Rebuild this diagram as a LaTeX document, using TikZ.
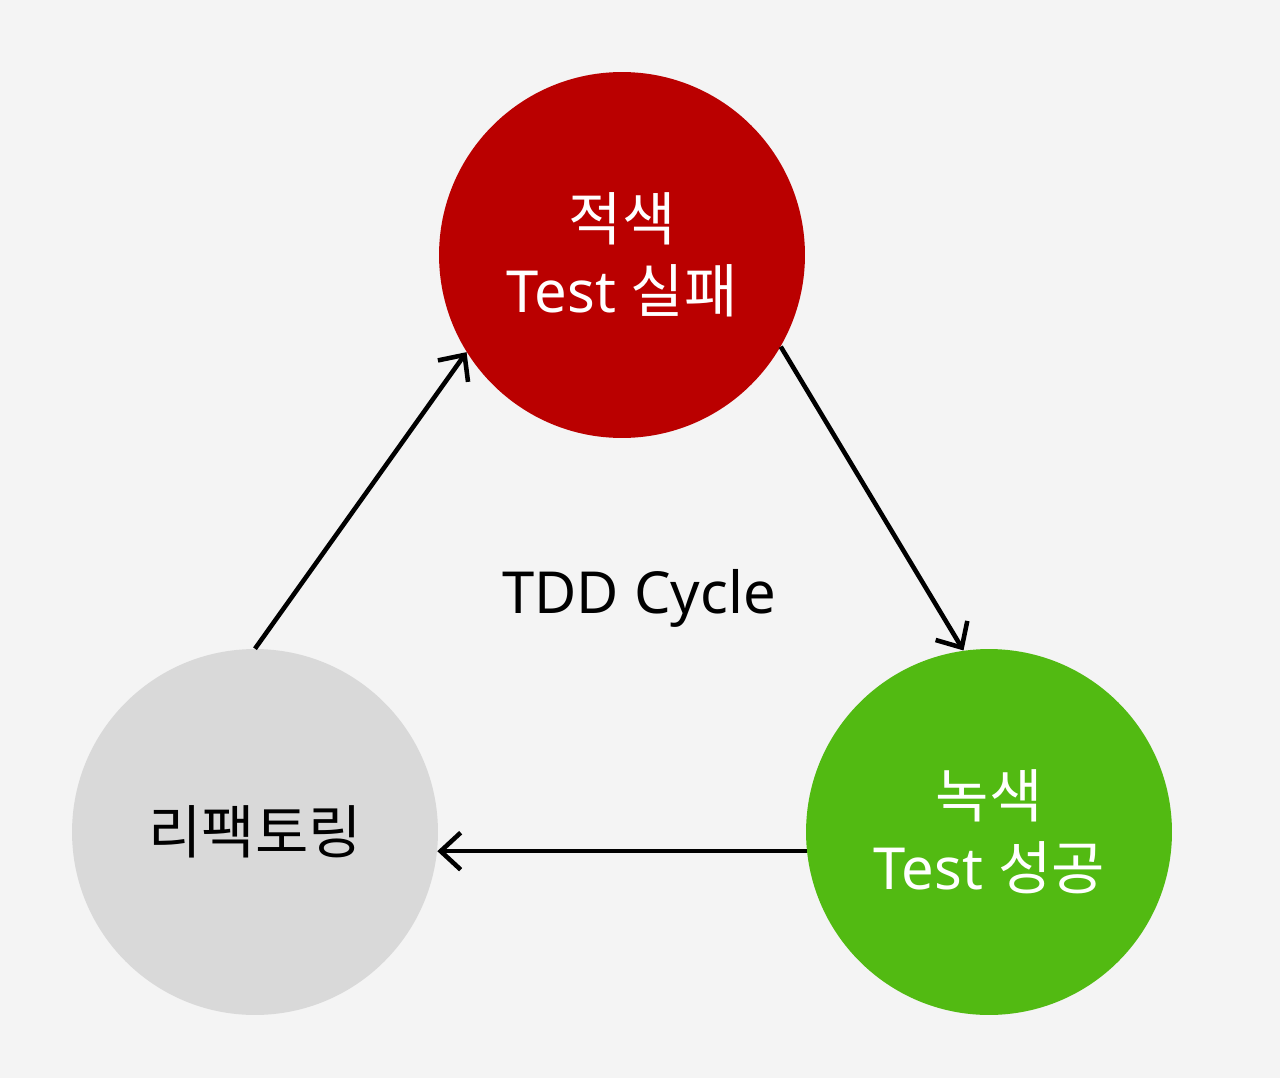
\documentclass[tikz,border=0pt]{standalone}
\usepackage{fontspec}
\setmainfont{Noto Sans}
\newfontfamily\kr{Noto Sans CJK KR}
\usetikzlibrary{arrows.meta}
\definecolor{bg}{RGB}{244,244,244}
\definecolor{redc}{RGB}{186,0,0}
\definecolor{greenc}{RGB}{82,186,18}
\definecolor{grayc}{RGB}{217,217,217}
\begin{document}
\begin{tikzpicture}[x=0.02cm,y=-0.02cm,
  phase/.style={circle,minimum size=7.32cm,inner sep=0pt,align=center,
    font=\fontsize{33}{41}\selectfont},
  flow/.style={line width=2.6pt,-{Straight Barb[length=0.40cm,width=0.74cm,line width=2.6pt]}}]
\fill[bg] (0,0) rectangle (1280,1078);
\useasboundingbox (0,0) rectangle (1280,1078);
\node[phase,fill=redc,text=white] (red) at (622,255) {{\kr 적색}\\Test {\kr 실패}};
\node[phase,fill=greenc,text=white] (green) at (989,832) {{\kr 녹색}\\Test {\kr 성공}};
\node[phase,fill=grayc,text=black] (gray) at (255,832) {\kr 리팩토링};
\node[font=\fontsize{33}{41}\selectfont] (title) at (639,598) {TDD Cycle};
\draw[flow] (gray.north) -- (red.212);
\draw[flow] (red.-30) -- (green.98);
\draw[flow] (green.186) -- (gray.-6);
\end{tikzpicture}
\end{document}
